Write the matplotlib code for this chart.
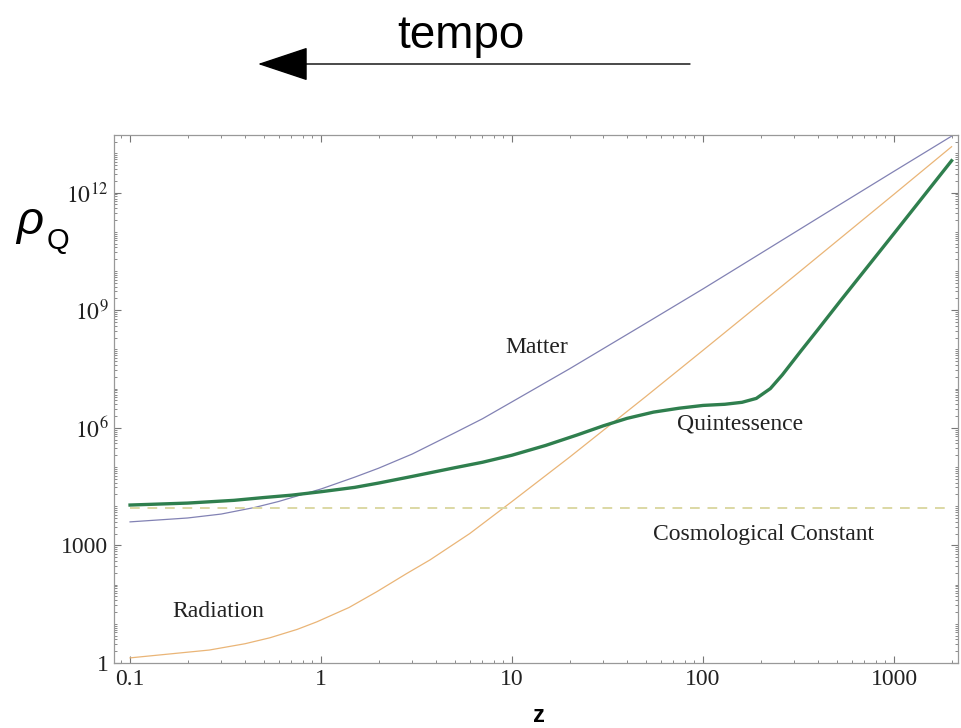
import matplotlib
matplotlib.use('Agg')
import matplotlib.pyplot as plt
from matplotlib.ticker import LogLocator, FixedLocator, NullFormatter

plt.rcParams['font.family'] = ['Liberation Serif', 'DejaVu Serif']
plt.rcParams['mathtext.fontset'] = 'stix'

# values (redshift z, energy density)
z_matter = [0.1, 0.2, 0.3, 0.45, 0.6, 0.8, 1, 1.5, 2, 3, 5, 7, 10, 20, 50,
            100, 200, 500, 1000, 2000]
rho_matter = [3.98e3, 5.0e3, 6.3e3, 9.3e3, 1.32e4, 2.0e4, 2.75e4, 5.5e4,
              9.3e4, 2.14e5, 7.4e5, 1.7e6, 4.6e6, 3.2e7, 4.6e8, 3.5e9,
              2.8e10, 4.4e11, 3.5e12, 2.75e13]

z_rad = [0.1, 0.26, 0.4, 0.54, 0.75, 0.95, 1.4, 1.96, 2.8, 3.72, 6, 10, 20,
         50, 100, 300, 1000, 2000]
rho_rad = [1.35, 2.14, 3.1, 4.4, 7.2, 11.2, 26, 66, 190, 427, 2.0e3,
           1.32e4, 1.78e5, 6.2e6, 9.5e7, 7.4e9, 9.1e11, 1.48e13]

z_quint = [0.1, 0.2, 0.35, 0.5, 0.7, 1, 1.5, 2, 3, 5, 7, 10, 15, 22, 30, 40,
           55, 75, 100, 130, 160, 190, 225, 260, 324, 400, 526, 1000, 2000]
rho_quint = [1.07e4, 1.20e4, 1.41e4, 1.66e4, 1.91e4, 2.34e4, 3.02e4, 3.89e4,
             5.75e4, 9.55e4, 1.32e5, 2.0e5, 3.55e5, 6.6e5, 1.12e6, 1.74e6,
             2.51e6, 3.16e6, 3.72e6, 3.98e6, 4.47e6, 5.62e6, 1.0e7, 2.24e7,
             8.9e7, 3.24e8, 1.78e9, 9.1e10, 6.5e12]

z_const = [0.1, 2000]
rho_const = [9.0e3, 9.0e3]

y_ticks = [1, 1e3, 1e6, 1e9, 1e12]
y_labels = ['1', '1000', r'$10^{6}$', r'$10^{9}$', r'$10^{12}$']
x_ticks = [0.1, 1, 10, 100, 1000]
x_labels = ['0.1', '1', '10', '100', '1000']

fig = plt.figure(figsize=(9.62, 7.28), dpi=100)
ax = fig.add_axes([0.1185, 0.0893, 0.8773, 0.7253])

ax.plot(z_matter, rho_matter, color='#8282b4', lw=0.9, solid_joinstyle='round')
ax.plot(z_rad, rho_rad, color='#eab577', lw=0.9, solid_joinstyle='round')
ax.plot(z_const, rho_const, color='#dcd8a4', lw=1.4, dashes=(5, 4))
ax.plot(z_quint, rho_quint, color='#2f7f4e', lw=2.4, solid_joinstyle='round')

ax.set_xscale('log')
ax.set_yscale('log')
ax.set_xlim(0.0824, 2160)
ax.set_ylim(1, 2.95e13)

ax.xaxis.set_major_locator(FixedLocator(x_ticks))
ax.set_xticklabels(x_labels)
ax.xaxis.set_minor_locator(LogLocator(base=10, subs=range(2, 10), numticks=20))
ax.xaxis.set_minor_formatter(NullFormatter())

ax.yaxis.set_major_locator(FixedLocator(y_ticks))
ax.set_yticklabels(y_labels)
ax.yaxis.set_minor_locator(LogLocator(base=10, subs=range(1, 10), numticks=30))
ax.yaxis.set_minor_formatter(NullFormatter())

ax.tick_params(which='both', direction='in', top=True, right=True,
               color='#777777', labelsize=17, labelcolor='#222222')
ax.tick_params(which='major', length=5, width=0.8, pad=4)
ax.tick_params(which='minor', length=2.5, width=0.6)
for s in ax.spines.values():
    s.set_color('#999999')
    s.set_linewidth(0.9)

ax.text(0.289, 20, 'Radiation', fontsize=17, ha='center', va='center', color='#222222')
ax.text(13.5, 1.15e8, 'Matter', fontsize=17, ha='center', va='center', color='#222222')
ax.text(156, 1.25e6, 'Quintessence', fontsize=17, ha='center', va='center', color='#222222')
ax.text(206, 1950, 'Cosmological Constant', fontsize=17, ha='center', va='center', color='#222222')

# labels outside the frame
fig.text(533 / 962, 1 - 716 / 728, 'z', fontsize=17, fontweight='bold',
         family='Liberation Sans', ha='left', va='center')
fig.text(16 / 962, 1 - 222 / 728, 'ρ', fontsize=34, style='italic',
         family='Liberation Sans', ha='left', va='center')
fig.text(47 / 962, 1 - 241 / 728, 'Q', fontsize=21,
         family='Liberation Sans', ha='left', va='center')
fig.text(461 / 962, 1 - 36 / 728, 'tempo', fontsize=33,
         family='Liberation Sans', ha='center', va='center')

fig.patches.append(matplotlib.patches.FancyArrowPatch(
    (690, 728 - 64), (258, 728 - 64), transform=None,
    arrowstyle='-|>,head_length=1.5,head_width=0.5', mutation_scale=22,
    color='black', lw=1, shrinkA=0, shrinkB=0))

fig.savefig('out.png', dpi=100)
